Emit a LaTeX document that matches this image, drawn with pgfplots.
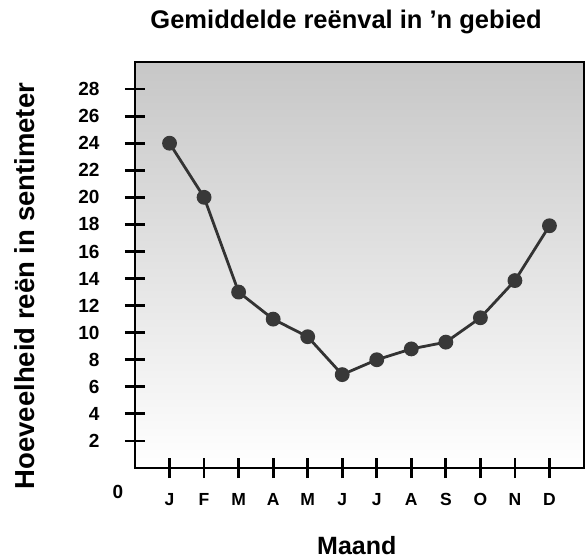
\documentclass[border=0pt]{standalone}
\usepackage{pgfplots}
\pgfplotsset{compat=1.18}
\usepackage{fontspec}
\setmainfont{Liberation Sans}
\pgfplotsset{
  every y tick label/.append style={font=\bfseries\fontsize{19}{19}\selectfont, xshift=-22pt},
  every x tick label/.append style={font=\bfseries\fontsize{17.5}{17.5}\selectfont, yshift=-12pt},
}
\begin{document}
\begin{tikzpicture}[x=1pt,y=1pt]
\path[use as bounding box] (0,0) rectangle (588,558);
\begin{axis}[
  at={(135pt,90pt)}, anchor=south west,
  scale only axis, width=449pt, height=406pt,
  xmin=0, xmax=13, ymin=0, ymax=30,
  xtick={1,...,12},
  xticklabels={J,F,M,A,M,J,J,A,S,O,N,D},
  ytick={2,4,6,8,10,12,14,16,18,20,22,24,26,28},
  yticklabels={2,4,6,8,10,12,14,16,18,20,22,24,26,28},
  tick pos=left, tick align=center,
  major tick length=20pt,
  xtick style={black, line width=2.8pt},
  ytick style={black, line width=2.8pt},
  axis line style={black, line width=1.8pt},
  axis background/.style={top color=black!22, bottom color=white},
  title={Gemiddelde reënval in 'n gebied},
  title style={at={(axis description cs:0.47,1.083)}, anchor=center, font=\bfseries\fontsize{25.5}{25.5}\selectfont},
  xlabel={Maand},
  xlabel style={at={(axis description cs:0.494,-0.19)}, anchor=center, font=\bfseries\fontsize{25}{25}\selectfont},
  ylabel={Hoeveelheid reën in sentimeter},
  ylabel style={at={(axis description cs:-0.245,0.448)}, anchor=center, rotate=0, font=\bfseries\fontsize{27.5}{27.5}\selectfont},
  clip=false,
]
\addplot[color=black!80, line width=2.8pt, mark=*, mark size=6pt, mark options={fill=black!78, draw=black!78}]
coordinates {(1,24) (2,20) (3,13) (4,11) (5,9.7) (6,6.9) (7,8) (8,8.8) (9,9.3) (10,11.1) (11,13.85) (12,17.9)};
\node[font=\bfseries\fontsize{19}{19}\selectfont] at (axis cs:0,0) [xshift=-17pt, yshift=-24pt] {0};
\end{axis}
\end{tikzpicture}
\end{document}
